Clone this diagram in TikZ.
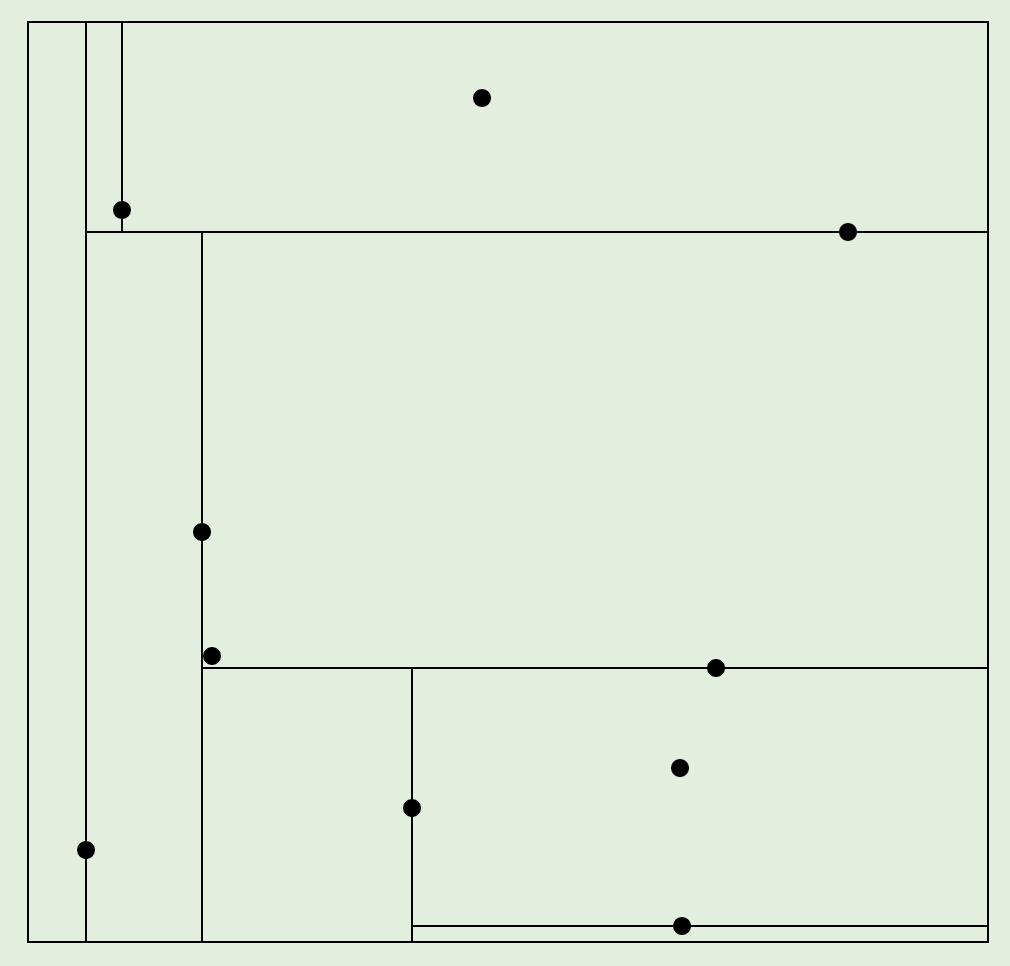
\documentclass[tikz,border=0pt]{standalone}
\usepackage{tikz}
\definecolor{bgcol}{RGB}{226,238,222}

\begin{document}
\begin{tikzpicture}[x=0.02cm,y=-0.02cm,line width=1.13pt]
			\fill[bgcol] (0,0) rectangle (1010,966);
			\useasboundingbox (0,0) rectangle (1010,966);
			\draw (28,22) rectangle (988,942);
			\draw (86,22) -- (86,942);
			\draw (86,232) -- (988,232);
			\draw (122,22) -- (122,232);
			\draw (202,232) -- (202,942);
			\draw (202,668) -- (988,668);
			\draw (412,668) -- (412,942);
			\draw (412,926) -- (988,926);
			\foreach \px/\py in {86/850, 122/210, 482/98, 848/232, 202/532, 212/656, 716/668, 412/808, 680/768, 682/926}
				\fill (\px,\py) circle (0.18cm);
			\end{tikzpicture}
\end{document}
